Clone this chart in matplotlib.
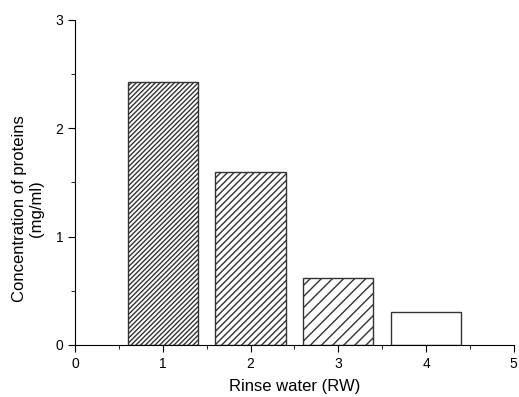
import matplotlib
matplotlib.use("Agg")
import matplotlib.pyplot as plt
from matplotlib.ticker import MultipleLocator

# data
rinse = [1, 2, 3, 4]
protein = [2.43, 1.60, 0.62, 0.30]
hatches = ['///////', '/////', '///', '']

plt.rcParams['font.family'] = 'Liberation Sans'
plt.rcParams['hatch.linewidth'] = 1.0
plt.rcParams['hatch.color'] = '#222222'

fig = plt.figure(figsize=(5.19, 3.97), dpi=100)
ax = fig.add_axes([0.1445, 0.131, 0.8455, 0.819])

for x, y, h in zip(rinse, protein, hatches):
    ax.bar(x, y, width=0.8, color='white', edgecolor='#333333',
           hatch=h, linewidth=1.0)

ax.set_xlim(0, 5)
ax.set_ylim(0, 3)
ax.xaxis.set_major_locator(MultipleLocator(1))
ax.xaxis.set_minor_locator(MultipleLocator(0.5))
ax.yaxis.set_major_locator(MultipleLocator(1))
ax.yaxis.set_minor_locator(MultipleLocator(0.5))
ax.tick_params(which='major', direction='out', length=5, labelsize=10)
ax.tick_params(which='minor', direction='out', length=3)

ax.spines['top'].set_visible(False)
ax.spines['right'].set_visible(False)

ax.set_xlabel('Rinse water (RW)', fontsize=12, labelpad=6)
ax.set_ylabel('Concentration of proteins\n(mg/ml)', fontsize=12, labelpad=8, y=0.42)

fig.savefig('out.png', dpi=100)
